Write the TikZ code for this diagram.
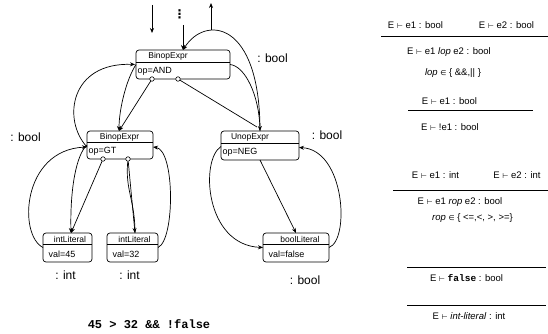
\documentclass[tikz,border=0pt]{standalone}
\usepackage{fontspec}
\setmainfont{Liberation Sans}
\newfontfamily\symfont{DejaVu Sans}
\newfontfamily\codefont{Liberation Mono}
\usetikzlibrary{arrows.meta}
\newcommand\vdsym{{\symfont\fontsize{7}{8}\selectfont ⊢}}
\newcommand\insym{{\symfont\fontsize{7}{8}\selectfont ∈}}
\begin{document}
\begin{tikzpicture}[x=1pt,y=-1pt,
  objbox/.style={draw, rounded corners=3pt, line width=0.7pt, inner sep=0pt, outer sep=0pt},
  sepline/.style={line width=0.7pt},
  hdr/.style={font=\fontsize{8.5}{9}\selectfont, inner sep=0pt},
  attr/.style={font=\fontsize{9}{10}\selectfont, inner sep=0pt, anchor=west},
  typ/.style={font=\fontsize{12}{14}\selectfont, inner sep=0pt},
  rule/.style={font=\fontsize{9.5}{11}\selectfont, inner sep=0pt},
  conn/.style={line width=0.7pt, -{Stealth[length=5pt,width=4pt]}},
  plain/.style={line width=0.7pt},
  hole/.style={circle, draw, fill=white, inner sep=0pt, minimum size=4.5pt, line width=0.6pt},
  bar/.style={line width=0.8pt}
]
\useasboundingbox (0,0) rectangle (548,334);

% object boxes
\node[objbox, minimum width=94pt, minimum height=29pt] (and) at (183,64.5) {};
\node[objbox, minimum width=66pt, minimum height=28pt] (gt) at (120,145) {};
\node[objbox, minimum width=78pt, minimum height=29pt] (unop) at (260,145.5) {};
\node[objbox, minimum width=66pt, minimum height=29pt] (bl) at (296,247.5) {};
\node[objbox, minimum width=49pt, minimum height=29pt] (i45) at (67.5,247.5) {};
\node[objbox, minimum width=51pt, minimum height=29pt] (i32) at (132.5,247.5) {};

\draw[sepline] ([yshift=-12pt]and.north west) -- ([yshift=-12pt]and.north east);
\draw[sepline] ([yshift=-11pt]gt.north west) -- ([yshift=-11pt]gt.north east);
\draw[sepline] ([yshift=-12pt]unop.north west) -- ([yshift=-12pt]unop.north east);
\draw[sepline] ([yshift=-11pt]bl.north west) -- ([yshift=-11pt]bl.north east);
\draw[sepline] ([yshift=-11pt]i45.north west) -- ([yshift=-11pt]i45.north east);
\draw[sepline] ([yshift=-11pt]i32.north west) -- ([yshift=-11pt]i32.north east);

% box texts
\node[hdr] (andh) at (168,56.5) {BinopExpr};
\node[attr] (anda) at (137.5,71.5) {op=AND};
\node[hdr] (gth) at (119.5,137) {BinopExpr};
\node[attr] (gta) at (88.5,151) {op=GT};
\node[hdr] (unoph) at (250,137.5) {UnopExpr};
\node[attr] (unopa) at (222.5,152) {op=NEG};
\node[hdr] (blh) at (300,239) {boolLiteral};
\node[attr] (bla) at (268.5,254) {val=false};
\node[hdr] (i45h) at (70,239) {intLiteral};
\node[attr] (i45a) at (48.5,254) {val=45};
\node[hdr] (i32h) at (134.5,239) {intLiteral};
\node[attr] (i32a) at (112.5,254) {val=32};

% link holes
\node[hole] (h1) at (152,79) {};
\node[hole] (h2) at (178,79) {};
\node[hole] (h3) at (103,159) {};
\node[hole] (h4) at (128,159) {};

% top free arrows
\coordinate (t1a) at (152,5);
\coordinate (t1b) at (152,33);
\coordinate (t2a) at (183,25);
\coordinate (t3a) at (211,30);
\coordinate (t3b) at (211,3);
\draw[conn] (t1a) -- (t1b);
\draw[conn] (t2a) -- (and.north);
\draw[conn] (t3a) -- (t3b);
\node[font=\symfont\bfseries\fontsize{12}{13}\selectfont, inner sep=0pt] (dots) at (179.5,14) {⋮};

% top level connectors
\draw[conn] (unop.north) .. controls (260,20) and (205,15) .. (and.north);
\draw[conn] (and.east) .. controls (245,66) and (259,95) .. (unop.north);
\draw[plain] (h2) -- ([xshift=-3pt,yshift=4pt]unop.north);
\draw[conn] (and.west) .. controls (126,80) and (119,110) .. ([xshift=-1pt]gt.north);
\draw[conn] ([yshift=-2pt]gt.west) .. controls (62,120) and (70,62) .. ([xshift=-1pt]and.west);
\draw[conn] (h1) -- ([xshift=-1pt]gt.north);

% gt level connectors
\draw[conn] (gt.west) .. controls (76,155) and (70,190) .. ([xshift=3.5pt]i45.north);
\draw[conn] (h3) -- ([xshift=3.5pt]i45.north);
\draw[conn] (i45.west) .. controls (18,235) and (22,150) .. ([yshift=-2pt]gt.west);
\draw[conn] (h4) -- ([xshift=2.5pt]i32.north);
\draw[plain] (h4) .. controls (125,190) and (135,200) .. ([xshift=2.5pt]i32.north);
\draw[conn] (i32.east) .. controls (175,240) and (175,150) .. ([yshift=-2pt]gt.east);

% unop level connectors
\draw[conn] (unop.south) -- (bl.north);
\draw[conn] ([yshift=-1pt]unop.west) .. controls (200,160) and (205,245) .. (bl.west);
\draw[conn] (bl.east) .. controls (350,240) and (345,150) .. ([yshift=-2pt]unop.east);

% type labels
\node[typ] (ty1) at (272.5,58) {: bool};
\node[typ] (ty2) at (25.5,137) {: bool};
\node[typ] (ty3) at (327,135) {: bool};
\node[typ] (ty4) at (305,280) {: bool};
\node[typ] (ty5) at (65.5,275) {: int};
\node[typ] (ty6) at (129.5,275) {: int};

% source expression
\node[inner sep=0pt, font=\codefont\bfseries\fontsize{12}{14}\selectfont] (src) at (149,324) {45 > 32 \&\& !false};

% typing rules
\node[rule] (r1a) at (415.5,25) {E \vdsym{} e1 : bool};
\node[rule] (r1b) at (506.5,25) {E \vdsym{} e2 : bool};
\coordinate (b1l) at (381,36); \coordinate (b1r) at (548,36);
\draw[bar] (b1l) -- (b1r);
\node[rule] (r1c) at (449,52) {E \vdsym{} e1 \textit{lop} e2 : bool};
\node[rule] (r1d) at (453,73) {\textit{lop} \insym{} \{ \&\&,|| \}};

\node[rule] (r2a) at (449.5,101) {E \vdsym{} e1 : bool};
\coordinate (b2l) at (408,110); \coordinate (b2r) at (533,110);
\draw[bar] (b2l) -- (b2r);
\node[rule] (r2b) at (450,127) {E \vdsym{} !e1 : bool};

\node[rule] (r3a) at (435.5,175) {E \vdsym{} e1 : int};
\node[rule] (r3b) at (517,175) {E \vdsym{} e2 : int};
\coordinate (b3l) at (393,190); \coordinate (b3r) at (548,190);
\draw[bar] (b3l) -- (b3r);
\node[rule] (r3c) at (460,202) {E \vdsym{} e1 \textit{rop} e2 : bool};
\node[rule] (r3d) at (472.5,218) {\textit{rop} \insym{} \{ <=,<, >, >=\}};

\coordinate (b4l) at (407,267); \coordinate (b4r) at (546,267);
\draw[bar] (b4l) -- (b4r);
\node[rule] (r4) at (466.5,278) {E \vdsym{} {\codefont\bfseries false} : bool};

\coordinate (b5l) at (407,305); \coordinate (b5r) at (546,305);
\draw[bar] (b5l) -- (b5r);
\node[rule] (r5) at (469,316) {E \vdsym{} \textit{int-literal} : int};
\end{tikzpicture}
\end{document}
